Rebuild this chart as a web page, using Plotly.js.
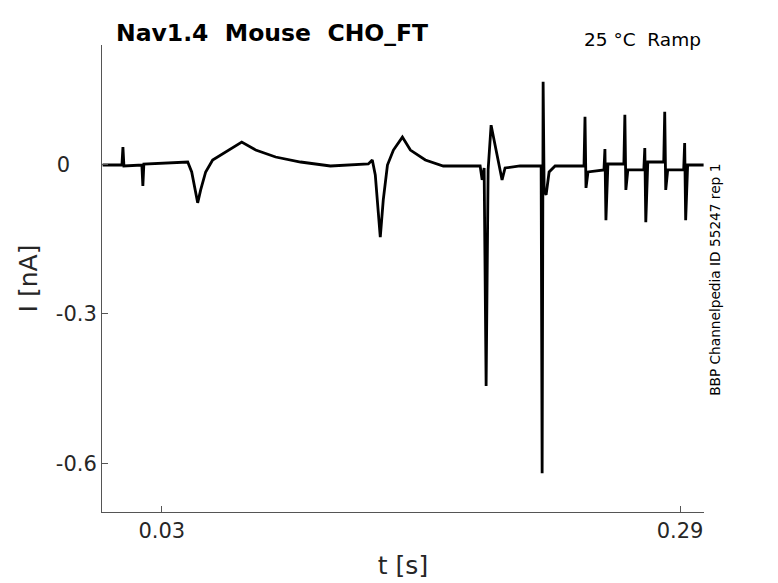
<!DOCTYPE html>
<html>
<head>
<meta charset="utf-8">
<script src="https://cdn.plot.ly/plotly-3.0.1.min.js"></script>
<style>
  html, body { margin: 0; padding: 0; background: #fff; }
  #chart { width: 778px; height: 583px; }
</style>
</head>
<body>
<div id="chart"></div>
<script>
// Ramp recording (time in s, current in nA)
var tSec = [
  0.0003, 0.0045, 0.0100, 0.0105, 0.0110, 0.0200, 0.0205, 0.0210, 0.0300, 0.0395,
  0.0430, 0.0450, 0.0480, 0.0495, 0.0520, 0.0555, 0.0620, 0.0701, 0.0771, 0.0871,
  0.0996, 0.1146, 0.1336, 0.1356, 0.1371, 0.1396, 0.1411, 0.1432, 0.1462, 0.1507,
  0.1547, 0.1622, 0.1712, 0.1897, 0.1907, 0.1917, 0.1927, 0.1937, 0.1952, 0.1982,
  0.2007, 0.2022, 0.2097, 0.2203, 0.2208, 0.2213, 0.2218, 0.2228, 0.2243, 0.2273,
  0.2418, 0.2423, 0.2428, 0.2438, 0.2518, 0.2523, 0.2528, 0.2538, 0.2618, 0.2623,
  0.2628, 0.2638, 0.2718, 0.2723, 0.2728, 0.2738, 0.2818, 0.2823, 0.2828, 0.2838,
  0.2918, 0.2923, 0.2928, 0.2938, 0.3018
];
var iNa = [
  -0.001, -0.001, -0.001, 0.035, -0.003, -0.001, -0.043, 0.001, 0.003, 0.005,
  0.005, -0.015, -0.077, -0.051, -0.015, 0.009, 0.025, 0.045, 0.029, 0.015,
  0.005, -0.003, 0.001, 0.009, -0.021, -0.146, -0.071, -0.001, 0.029, 0.055,
  0.029, 0.009, -0.003, -0.003, -0.031, -0.007, -0.445, -0.011, 0.079, 0.019,
  -0.031, -0.007, -0.003, -0.003, -0.620, 0.166, -0.051, -0.061, -0.015, -0.003,
  -0.003, 0.096, -0.047, -0.015, -0.011, 0.031, -0.112, 0.001, 0.001, 0.100,
  -0.051, -0.011, -0.011, 0.033, -0.116, 0.005, 0.005, 0.106, -0.051, -0.011,
  -0.011, 0.043, -0.112, -0.001, -0.001
];
var xTicks = [0.03, 0.29];
var xTickText = ["0.03", "0.29"];
var yTicks = [-0.6, -0.3, 0];
var yTickText = ["-0.6", "-0.3", "0\u00a0\u00a0\u00a0\u00a0"];

var INK = "#262626";
var FONT = "DejaVu Sans, sans-serif";

var trace = {
  x: tSec, y: iNa, type: "scatter", mode: "lines",
  line: { color: "#000", width: 2.8 },
  hoverinfo: "skip", showlegend: false
};

var layout = {
  width: 778, height: 583,
  margin: { l: 101.7, r: 73.7, t: 45, b: 71.3 },
  paper_bgcolor: "#fff", plot_bgcolor: "#fff",
  font: { family: FONT, color: INK, size: 21 },
  showlegend: false,
  xaxis: {
    range: [0, 0.302], tickvals: xTicks, ticktext: xTickText,
    ticks: "inside", ticklen: 6, tickcolor: "#555", tickwidth: 1,
    showline: true, linecolor: "#555", linewidth: 1, mirror: false,
    showgrid: false, zeroline: false,
    tickfont: { family: FONT, size: 21, color: INK },
    title: { text: "t [s]", font: { family: FONT, size: 25, color: INK }, standoff: 14 }
  },
  yaxis: {
    range: [-0.698, 0.240], tickvals: yTicks, ticktext: yTickText,
    ticks: "inside", ticklen: 6, tickcolor: "#555", tickwidth: 1,
    showline: true, linecolor: "#555", linewidth: 1, mirror: false,
    showgrid: false, zeroline: false,
    tickfont: { family: FONT, size: 21, color: INK },
    title: { text: "I [nA]", font: { family: FONT, size: 25, color: INK }, standoff: 11 }
  },
  annotations: [
    {
      text: "<b>Nav1.4  Mouse  CHO_FT</b>", xref: "paper", yref: "paper",
      x: 0.020, y: 1.026, xanchor: "left", yanchor: "middle", showarrow: false,
      font: { family: FONT, size: 23.5, color: "#000" }
    },
    {
      text: "25 °C  Ramp", xref: "paper", yref: "paper",
      x: 0.999, y: 1.011, xanchor: "right", yanchor: "middle", showarrow: false,
      font: { family: FONT, size: 18.5, color: "#000" }
    },
    {
      text: "BBP Channelpedia ID 55247 rep 1", xref: "paper", yref: "paper",
      x: 1.019, y: 0.498, xanchor: "center", yanchor: "middle", textangle: -90,
      showarrow: false, font: { family: FONT, size: 13.7, color: "#000" }
    }
  ]
};

Plotly.newPlot("chart", [trace], layout, { displayModeBar: false, staticPlot: true });
</script>
</body>
</html>
